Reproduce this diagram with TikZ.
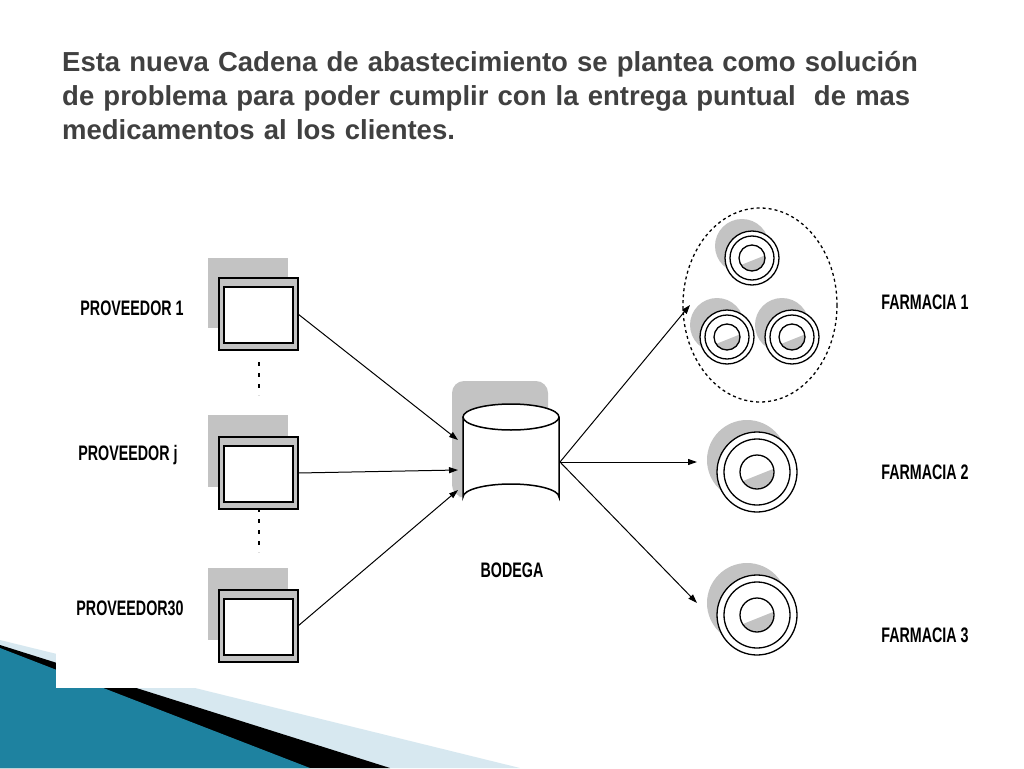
\documentclass[tikz,border=0pt]{standalone}
\usepackage{fontspec}
\setmainfont{Liberation Sans}
\usetikzlibrary{arrows.meta}
\definecolor{tealb}{RGB}{30,130,160}
\definecolor{lightb}{RGB}{215,232,240}
\definecolor{sh}{RGB}{195,195,195}
\tikzset{
 lbl/.style={font=\bfseries\fontsize{21}{21}\selectfont, inner sep=0},
 arr/.style={-{Triangle[length=9pt,width=6pt]}, line width=1pt},
 pbox/.style={draw=black, line width=1.5pt, fill=sh},
}
\newcommand{\nar}[1]{\scalebox{0.68}[1]{#1}}
\begin{document}
\begin{tikzpicture}[x=1pt,y=-1pt]
\useasboundingbox (0,0) rectangle (1024,768);
\fill[white] (0,0) rectangle (1024,768);
% bottom decoration
\fill[lightb] (0,640) -- (520,768) -- (0,768) -- cycle;
\fill[black] (0,645) -- (390,768) -- (0,768) -- cycle;
\fill[tealb] (0,648) -- (310,768) -- (0,768) -- cycle;
\fill[white] (56,0) rectangle (1024,688);
% title
\node[anchor=north west, text width=950pt, align=left, font=\bfseries\fontsize{27.5}{34}\selectfont, text=black!75, inner sep=0] (title) at (62,51)
 {Esta nueva Cadena de abastecimiento se plantea como solución\\de problema para poder cumplir con la entrega puntual\ \ de mas\\medicamentos al los clientes.};
% proveedores
\foreach \n/\y/\sy in {p1/278/258, pj/437/415, p30/590/568}{
 \fill[sh] (208,\sy) rectangle (288,\y+50);
 \draw[pbox] (219,\y) rectangle (298,\y+72);
 \draw[fill=white, line width=1.3pt] (224,\y+9) rectangle (293,\y+65);
 \coordinate (\n) at (298,\y+36);
}
\node[lbl] (l1) at (132,308) {\nar{PROVEEDOR 1}};
\node[lbl] (lj) at (128,455) {\nar{PROVEEDOR j}};
\node[lbl] (l30) at (130,608) {\nar{PROVEEDOR30}};
\draw[line width=2pt, dash pattern=on 4pt off 7pt] (259,362) -- (259,395);
\draw[line width=2pt, dash pattern=on 4pt off 7pt] (259,508) -- (259,552);
% bodega
\fill[sh, rounded corners=12pt] (452,497) -- (452,381) -- (548,381) -- (548,420) -- (470,420) -- (470,497) -- cycle;
\draw[line width=1.5pt, fill=white] (463,417) -- (463,497) arc[start angle=180, end angle=360, x radius=48, y radius=13] -- (559,417);
\draw[line width=1.5pt, fill=white] (511,417) ellipse[x radius=48, y radius=13];
\coordinate (bin1) at (458,440); \coordinate (bin2) at (458,470); \coordinate (bin3) at (458,490);
\coordinate (bout) at (560,462);
\node[lbl] (bl) at (512,570) {\nar{BODEGA}};
% farmacias
\newcommand{\ring}[5]{% x y R r gap
 \fill[sh] (#1-10,#2-12) circle[radius=#3];
 \draw[line width=1.3pt, fill=white] (#1,#2) circle[radius=#3];
 \draw[line width=1.3pt] (#1,#2) circle[radius=#3-#5];
 \begin{scope}\clip (#1,#2) circle[radius=#4];
 \fill[sh] (#1-#4,#2+#4*0.6) -- (#1+#4,#2-#4*0.2) -- (#1+#4,#2+#4) -- (#1-#4,#2+#4) -- cycle;\end{scope}
 \draw[line width=1.3pt] (#1,#2) circle[radius=#4];
}
\draw[dashed, line width=1.3pt] (760,305) ellipse[x radius=77, y radius=97];
\ring{752}{258}{27}{13}{5}
\ring{727}{337}{27}{13}{5}
\ring{792}{337}{27}{13}{5}
\ring{757}{472}{40}{17}{7}
\ring{757}{615}{40}{17}{7}
\coordinate (f1) at (690,305); \coordinate (f2) at (697,462); \coordinate (f3) at (697,603);
\node[lbl] (fl1) at (925,302) {\nar{FARMACIA 1}};
\node[lbl] (fl2) at (925,472) {\nar{FARMACIA 2}};
\node[lbl] (fl3) at (925,635) {\nar{FARMACIA 3}};
% arrows
\draw[arr] (p1) -- (bin1);
\draw[arr] (pj) -- (bin2);
\draw[arr] (p30) -- (bin3);
\draw[arr] (bout) -- (f1);
\draw[arr] (bout) -- (f2);
\draw[arr] (bout) -- (f3);
\end{tikzpicture}
\end{document}
